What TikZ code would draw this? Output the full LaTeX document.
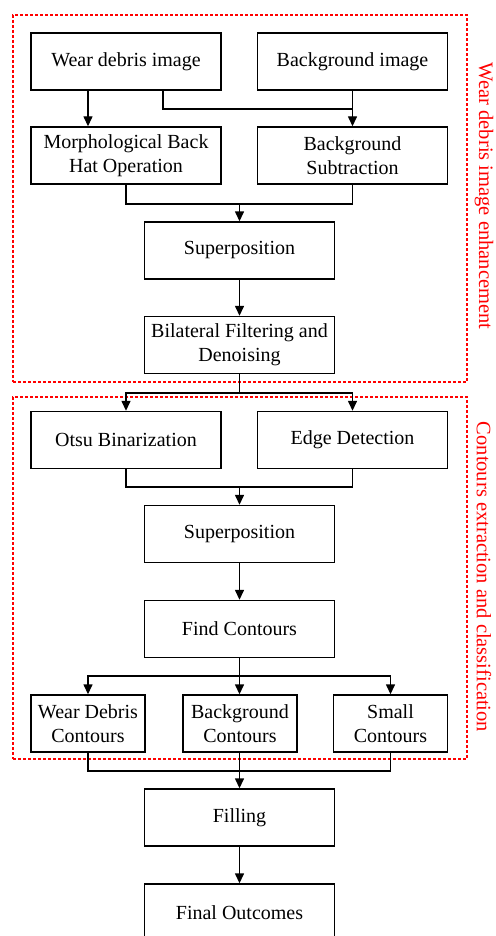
\documentclass[tikz,border=0pt]{standalone}
\usepackage{fontspec}
\setmainfont{Liberation Serif}
\usetikzlibrary{arrows.meta}
\begin{document}
\begin{tikzpicture}[x=1pt,y=-1pt,
  box/.style={draw=black,line width=1.4pt,minimum height=57pt,inner sep=0pt,align=center,font=\fontsize{20}{24}\selectfont},
  wbox/.style={box,minimum width=190pt},
  sbox/.style={box,minimum width=114pt},
  conn/.style={draw=black,line width=1.4pt},
  arr/.style={conn,-{Triangle[length=10pt,width=9pt]}},
  group/.style={draw=red,line width=1.3pt,dash pattern=on 3pt off 2pt},
  side/.style={text=red,rotate=-90,font=\fontsize{20.5}{24}\selectfont,inner sep=0pt}]
\useasboundingbox (0,0) rectangle (495,936);
\fill[white] (0,0) rectangle (495,936);
% groups
\node[group,minimum width=454pt,minimum height=367pt,inner sep=0pt] (g1) at (240,198.5) {};
\node[group,minimum width=454pt,minimum height=362pt,inner sep=0pt] (g2) at (240,578) {};
\node[side] (l1) at (484,196) {Wear debris image enhancement};
\node[side] (l2) at (484,577) {Contours extraction and classification};
% boxes
\node[wbox] (wdi) at (126,61.5) {Wear debris image};
\node[wbox] (bgi) at (352.5,61.5) {Background image};
\node[wbox] (morph) at (126,155.5) {Morphological Back\\Hat Operation};
\node[wbox] (bsub) at (352.5,155.5) {Background\\Subtraction};
\node[wbox] (sup1) at (239.5,250.5) {Superposition};
\node[wbox] (bil) at (239.5,345) {Bilateral Filtering and\\Denoising};
\node[wbox] (otsu) at (126,440) {Otsu Binarization};
\node[wbox] (edge) at (352.5,440) {Edge Detection};
\node[wbox] (sup2) at (239.5,534) {Superposition};
\node[wbox] (find) at (239.5,629) {Find Contours};
\node[sbox] (wdc) at (88,723.5) {Wear Debris\\Contours};
\node[sbox] (bgc) at (240,723.5) {Background\\Contours};
\node[sbox] (smc) at (390.5,723.5) {Small\\Contours};
\node[wbox] (fill) at (239.5,817.5) {Filling};
\node[wbox] (final) at (239.5,912.5) {Final Outcomes};
% coordinates
\coordinate (j1) at (163,109);
\coordinate (j2) at (239.5,204);
\coordinate (j3) at (239.5,393);
\coordinate (j4) at (239.5,487);
\coordinate (j5) at (239.5,676);
\coordinate (j6) at (239.5,771);
% connectors
\draw[arr] (wdi.south -| wdc.north) -- (morph.north -| wdc.north);
\draw[conn] (wdi.south -| j1) -- (j1) -- (j1 -| bgi.south);
\draw[arr] (bgi.south) -- (bsub.north);
\draw[conn] (morph.south) |- (j2) -| (bsub.south);
\draw[arr] (j2) -- (sup1.north);
\draw[arr] (sup1.south) -- (bil.north);
\draw[conn] (bil.south) -- (j3);
\draw[arr] (j3) -| (otsu.north);
\draw[arr] (j3) -| (edge.north);
\draw[conn] (otsu.south) |- (j4) -| (edge.south);
\draw[arr] (j4) -- (sup2.north);
\draw[arr] (sup2.south) -- (find.north);
\draw[conn] (find.south) -- (j5);
\draw[arr] (j5) -| (wdc.north);
\draw[arr] (j5) -- (j5 |- bgc.north);
\draw[arr] (j5) -| (smc.north);
\draw[conn] (wdc.south) |- (j6) -| (smc.south);
\draw[conn] (bgc.south -| j6) -- (j6);
\draw[arr] (j6) -- (fill.north);
\draw[arr] (fill.south) -- (final.north);
\end{tikzpicture}
\end{document}
